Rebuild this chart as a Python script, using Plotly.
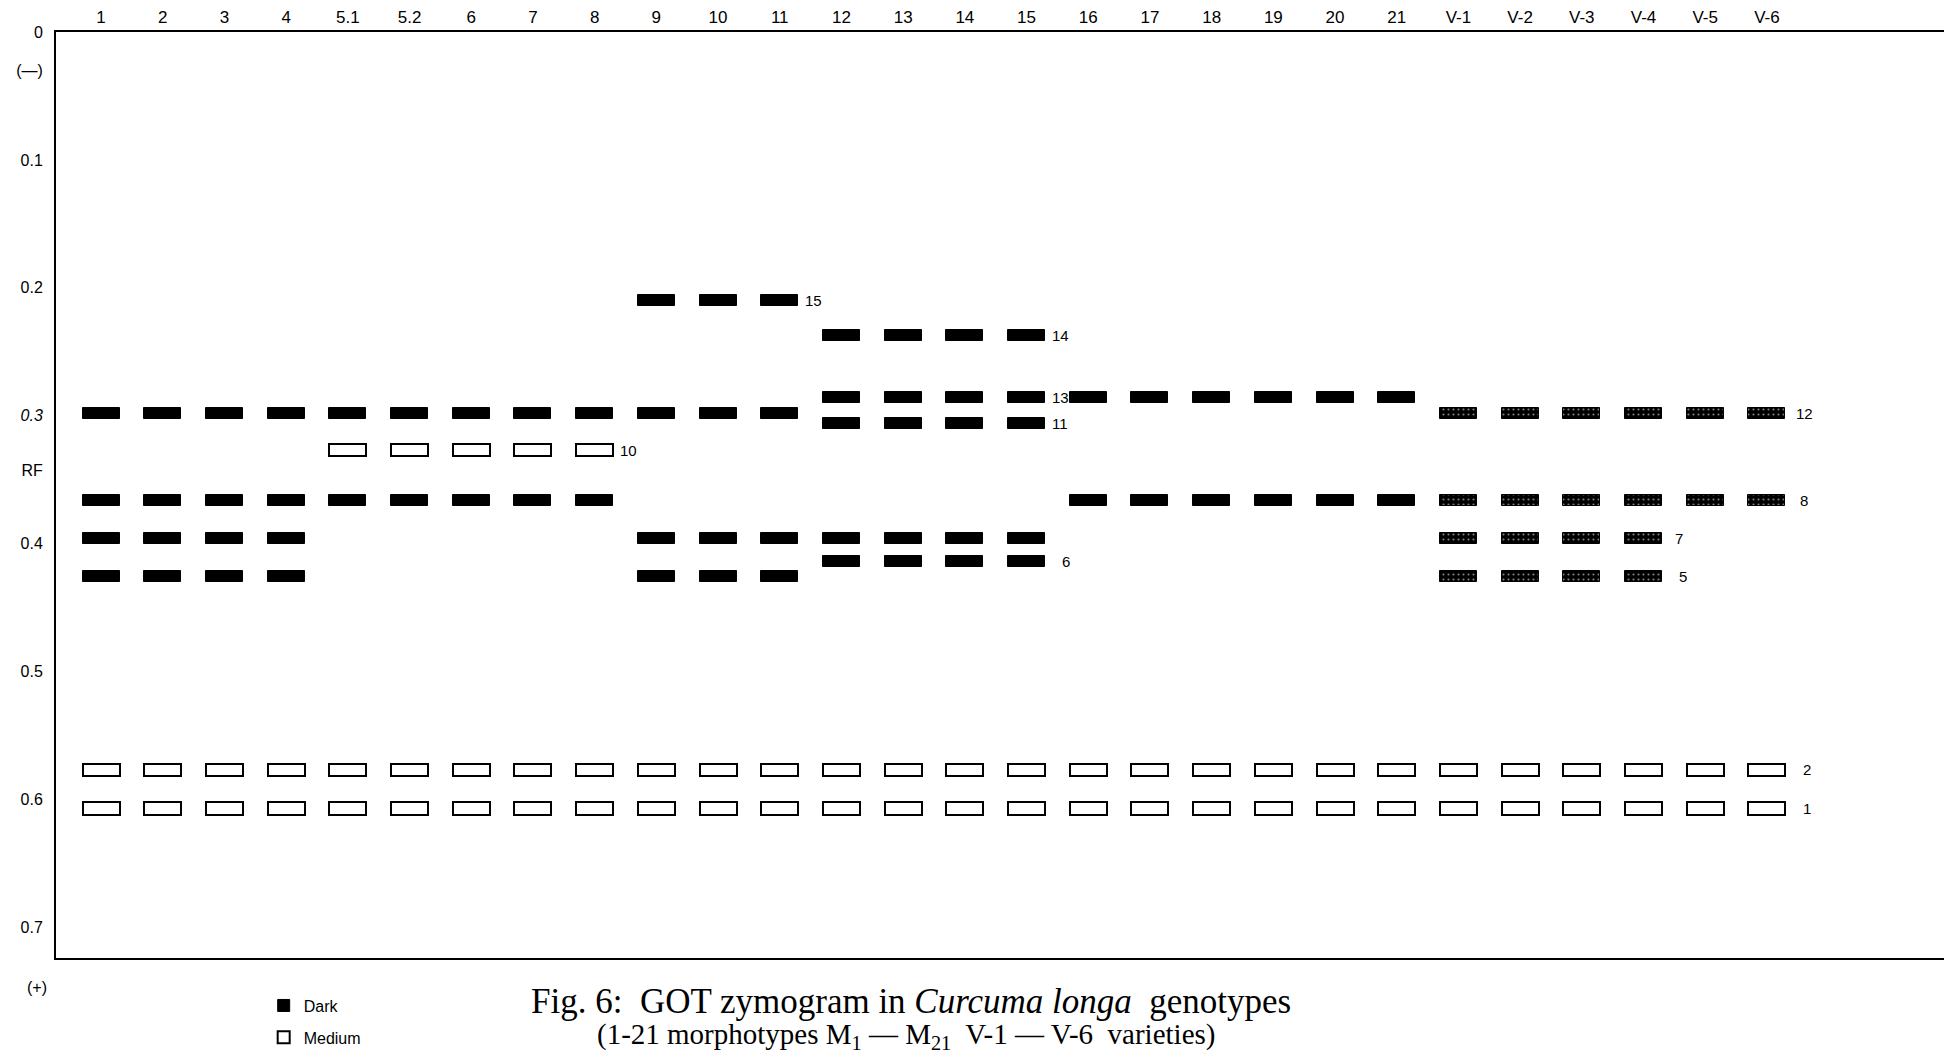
import plotly.graph_objects as go

# ---------------- data ----------------
lanes = ["1", "2", "3", "4", "5.1", "5.2", "6", "7", "8", "9", "10", "11",
         "12", "13", "14", "15", "16", "17", "18", "19", "20", "21",
         "V-1", "V-2", "V-3", "V-4", "V-5", "V-6"]

band_ids = [1, 2, 5, 6, 7, 8, 10, 11, 12, 13, 14, 15]
band_rf = [0.607, 0.577, 0.426, 0.414, 0.396, 0.366, 0.327, 0.306, 0.298, 0.286, 0.237, 0.210]

group_lanes = [
    ["1", "2", "3", "4"],
    ["5.1", "5.2", "6", "7", "8"],
    ["9", "10", "11"],
    ["12", "13", "14", "15"],
    ["16", "17", "18", "19", "20", "21"],
    ["V-1", "V-2", "V-3", "V-4"],
    ["V-5", "V-6"],
]
group_dark = [[12, 8, 7, 5], [12, 8], [15, 12, 7, 5], [14, 13, 11, 7, 6], [13, 8], [], []]
group_dark_speckled = [[], [], [], [], [], [12, 8, 7, 5], [12, 8]]
group_medium = [[2, 1], [10, 2, 1], [2, 1], [2, 1], [2, 1], [2, 1], [2, 1]]

label_band = [15, 14, 13, 11, 10, 6, 12, 8, 7, 5, 2, 1]
label_lane = ["11", "15", "15", "15", "8", "15", "V-6", "V-6", "V-4", "V-4", "V-6", "V-6"]

y_tick_vals = [0, 0.03, 0.1, 0.2, 0.3, 0.343, 0.4, 0.5, 0.6, 0.7]
y_tick_text = ["0", "(—)", "0.1", "0.2", "<i>0.3</i>", "RF", "0.4", "0.5", "0.6", "0.7"]

# ---------------- style ----------------
# extra horizontal gap (px) between each band label and its band
label_gap_px = [2, 2, 2, 2, 2, 12, 6, 10, 8, 12, 13, 13]

rf_of = dict(zip(band_ids, band_rf))
pos_of = {l: i for i, l in enumerate(lanes)}

DARK_H = 0.0086
MED_H = 0.0096
BAR_W = 0.6


def collect(groups, h):
    xs, bases, ys = [], [], []
    for lane_list, bands in zip(group_lanes, groups):
        for l in lane_list:
            for b in bands:
                xs.append(pos_of[l])
                bases.append(rf_of[b] - h / 2)
                ys.append(h)
    return xs, bases, ys


FONT = "Liberation Sans, Arial, sans-serif"
SERIF = "Liberation Serif, Times New Roman, serif"

fig = go.Figure()

x, b, y = collect(group_dark, DARK_H)
fig.add_trace(go.Bar(x=x, base=b, y=y, width=BAR_W, name="Dark",
                     marker=dict(color="black", line=dict(color="black", width=1)),
                     legendgroup="d", legendrank=1, hoverinfo="skip"))

x, b, y = collect(group_medium, MED_H)
fig.add_trace(go.Bar(x=x, base=b, y=y, width=BAR_W, name="Medium",
                     marker=dict(color="white", line=dict(color="black", width=2)),
                     legendgroup="m", legendrank=2, hoverinfo="skip"))

x, b, y = collect(group_dark_speckled, DARK_H)
fig.add_trace(go.Bar(x=x, base=b, y=y, width=BAR_W, name="Dark (speckled)",
                     marker=dict(color="black", line=dict(color="black", width=1),
                                 pattern=dict(shape=".", fgcolor="white", bgcolor="black",
                                              size=5, solidity=0.15, fillmode="overlay")),
                     showlegend=False, hoverinfo="skip"))

annotations = []
for lb, ll, gap in zip(label_band, label_lane, label_gap_px):
    annotations.append(dict(
        x=pos_of[ll] + BAR_W / 2, y=rf_of[lb], xref="x", yref="y",
        text=str(lb), showarrow=False, xanchor="left", yanchor="middle",
        xshift=gap + 3, font=dict(family=FONT, size=15, color="black")))

annotations += [
    dict(text="(+)", xref="paper", yref="paper", x=-0.0035, y=-0.032,
         xanchor="right", yanchor="middle", showarrow=False,
         font=dict(family=FONT, size=16)),
    dict(text="Fig. 6:  GOT zymogram in <i>Curcuma longa</i>  genotypes",
         xref="paper", yref="paper", x=0.453, y=-0.047, xanchor="center",
         yanchor="middle", showarrow=False, font=dict(family=SERIF, size=35)),
    dict(text="(1-21 morphotypes M<sub>1</sub> — M<sub>21</sub>  V-1 — V-6  varieties)",
         xref="paper", yref="paper", x=0.450, y=-0.084, xanchor="center",
         yanchor="middle", showarrow=False, font=dict(family=SERIF, size=29)),
]

fig.update_layout(
    width=1944, height=1055,
    margin=dict(l=56, r=0, t=32, b=97, autoexpand=False),
    paper_bgcolor="white", plot_bgcolor="white",
    barmode="overlay", bargap=0,
    font=dict(family=FONT, size=16, color="black"),
    showlegend=True,
    legend=dict(x=0.110, y=-0.033, xanchor="left", yanchor="top",
                font=dict(family=FONT, size=16), tracegroupgap=8,
                bgcolor="rgba(0,0,0,0)"),
    xaxis=dict(range=[-0.73, 29.87], side="top", tickvals=list(range(len(lanes))),
               ticktext=lanes, showgrid=False, zeroline=False, showline=True,
               linecolor="black", linewidth=2, mirror=True, ticks="",
               tickfont=dict(family=FONT, size=17), ticklabelstandoff=0),
    yaxis=dict(range=[0.724, 0], tickvals=y_tick_vals, ticktext=y_tick_text,
               showgrid=False, zeroline=False, showline=True, linecolor="black",
               linewidth=2, mirror=False, ticks="", tickfont=dict(family=FONT, size=16),
               ticklabelstandoff=8),
    annotations=annotations,
)

fig.write_html("out.html")
